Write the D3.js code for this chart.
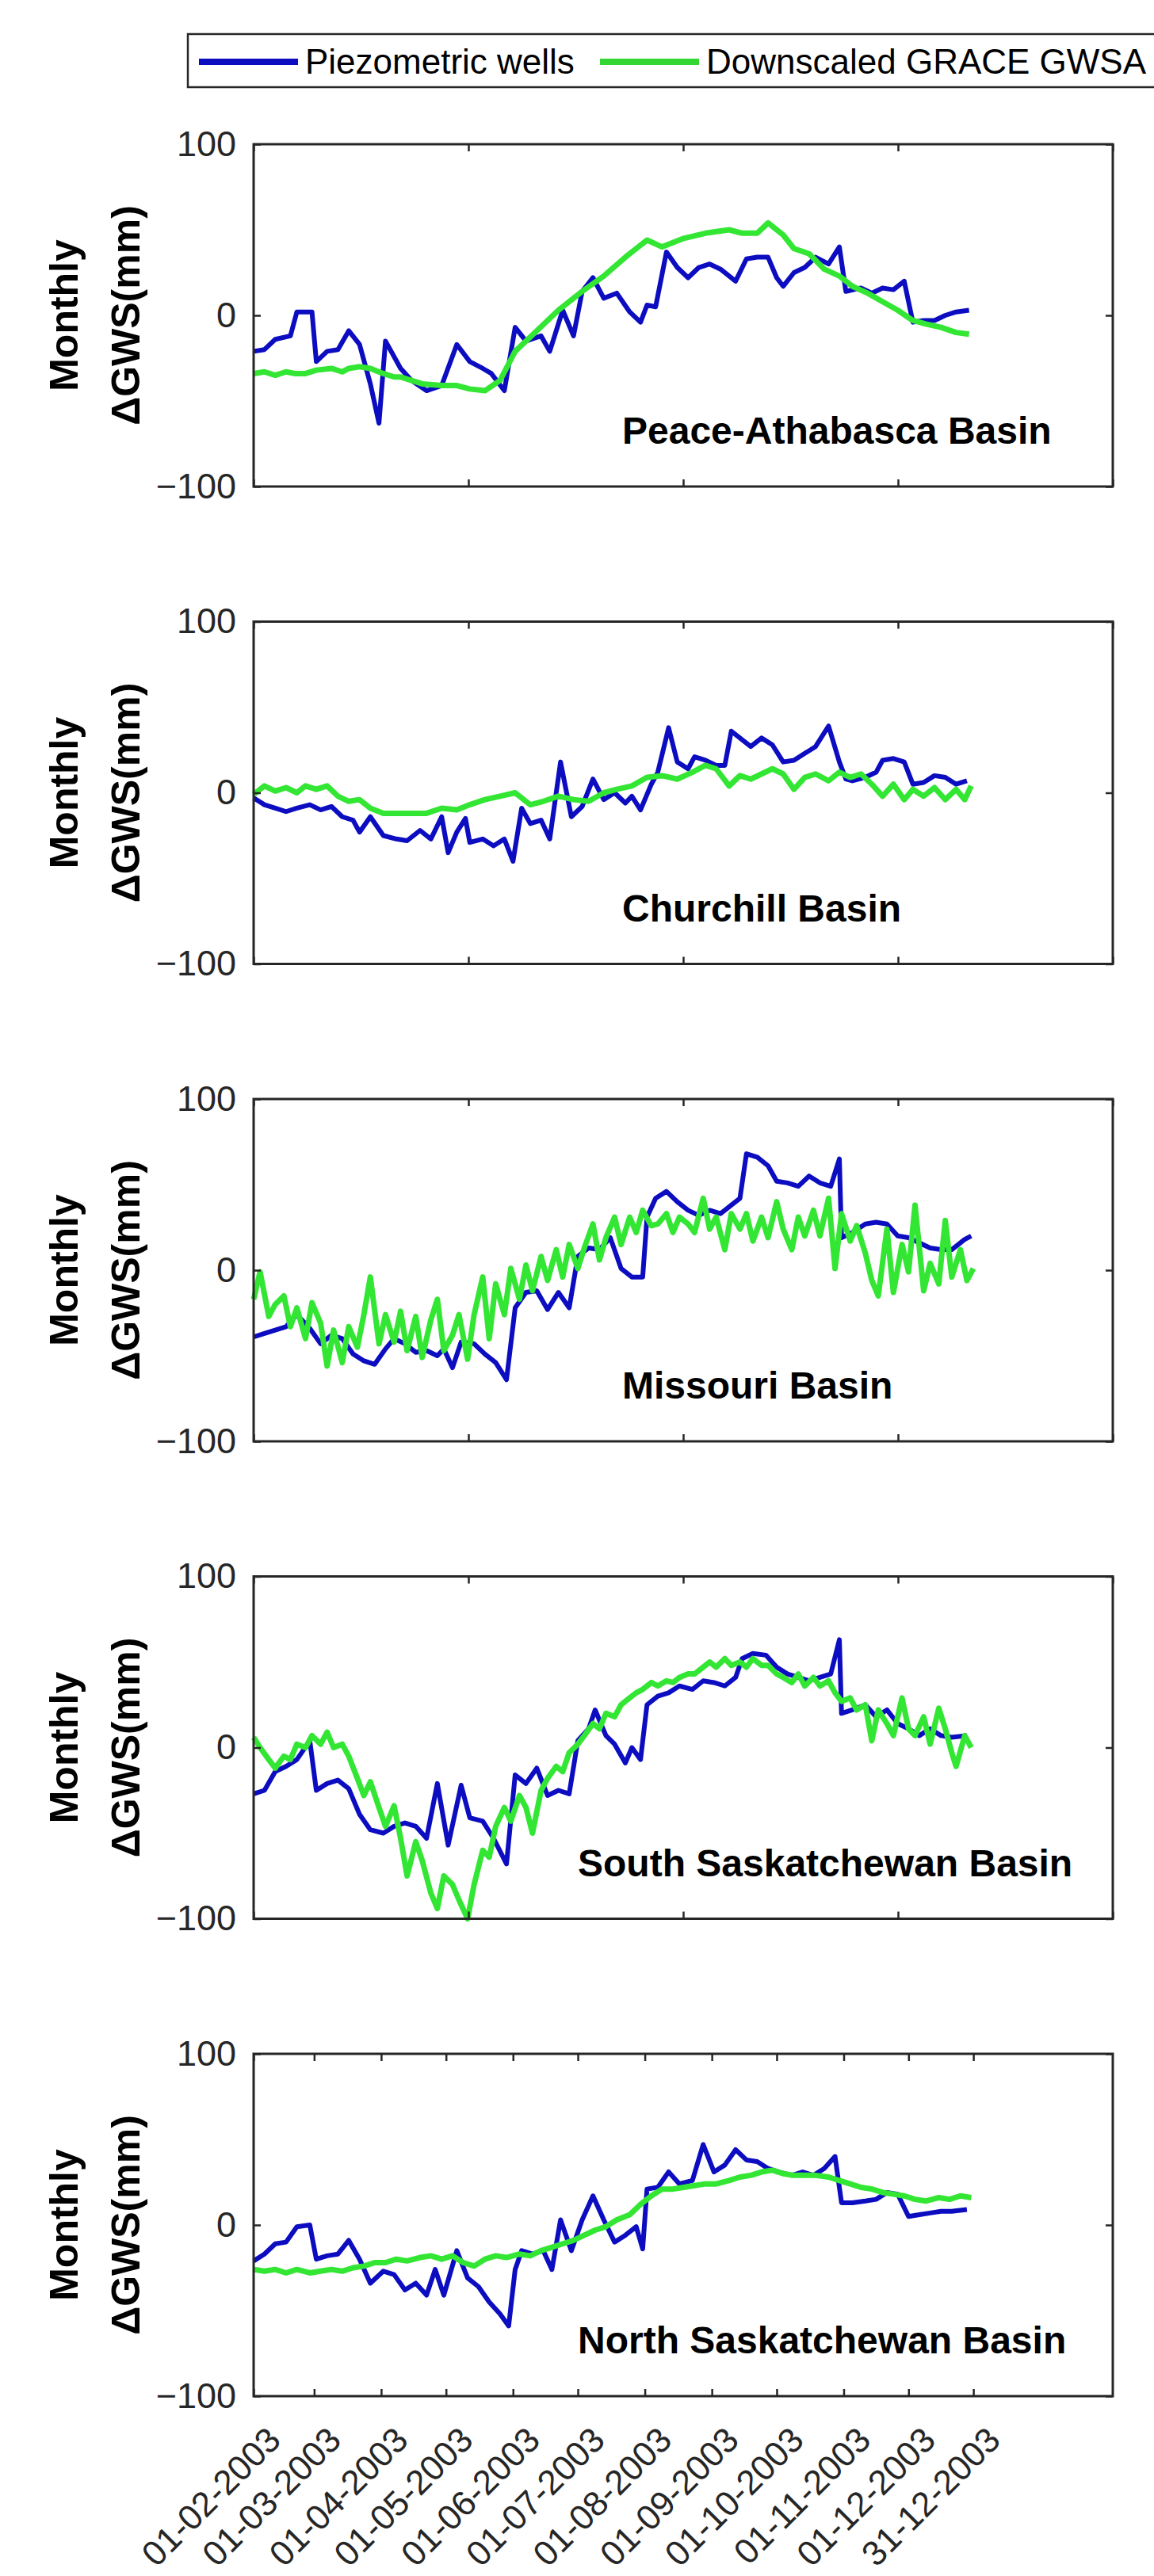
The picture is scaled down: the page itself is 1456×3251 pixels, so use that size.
<!DOCTYPE html>
<html>
<head>
<meta charset="utf-8">
<script src="https://cdn.jsdelivr.net/npm/d3@7"></script>
<style>
  body { margin: 0; background: #fff; }
  text { font-family: "Liberation Sans", Arial, Helvetica, sans-serif; }
</style>
</head>
<body>
<div class="container"></div>
<script>
// data: [day of year 2003, mm]
const basinNames = ['Peace-Athabasca Basin', 'Churchill Basin', 'Missouri Basin',
  'South Saskatchewan Basin', 'North Saskatchewan Basin'];
const seriesNames = ['Piezometric wells', 'Downscaled GRACE GWSA'];
const dateTickLabels = ['01-02-2003', '01-03-2003', '01-04-2003', '01-05-2003', '01-06-2003',
  '01-07-2003', '01-08-2003', '01-09-2003', '01-10-2003', '01-11-2003', '01-12-2003', '31-12-2003'];
const yTicks = [-100, 0, 100];

const peaceWells = [[32,-21],[37,-20],[42,-14],[49,-12],[52,2],[59,2],[61,-27],[66,-21],[71,-20],[76,-9],
  [81,-17],[86,-40],[90,-63],[93,-15],[100,-31],[105,-38],[112,-44],[119,-41],[126,-17],[132,-27],
  [138,-31],[142,-34],[148,-44],[153,-7],[158,-15],[165,-12],[169,-21],[175,3],[180,-12],[184,14],
  [189,22],[194,10],[200,13],[206,2],[211,-4],[214,6],[218,5],[223,37],[228,28],[233,22],[238,28],
  [243,30],[248,27],[255,20],[260,33],[265,34],[270,34],[274,22],[277,17],[282,25],[287,28],[292,34],
  [298,30],[303,40],[306,14],[313,16],[318,13],[323,16],[328,15],[333,20],[337,-4],[342,-3],[347,-3],
  [352,0],[357,2],[363,3]];
const peaceGrace = [[32,-34],[37,-33],[42,-35],[47,-33],[51,-34],[56,-34],[61,-32],[68,-31],[73,-33],
  [76,-31],[81,-30],[86,-31],[92,-34],[97,-36],[100,-36],[105,-38],[110,-40],[119,-41],[126,-41],
  [132,-43],[139,-44],[146,-38],[153,-21],[163,-9],[173,3],[184,14],[194,23],[204,34],[214,44],
  [221,40],[231,45],[241,48],[252,50],[258,48],[265,48],[270,54],[277,47],[282,39],[289,36],[296,27],
  [303,23],[309,17],[316,13],[323,8],[330,3],[337,-3],[343,-5],[350,-7],[357,-10],[363,-11]];

const churchillWells = [[32,-3],[37,-7],[42,-9],[47,-11],[52,-9],[58,-7],[63,-10],[68,-8],[73,-14],
  [78,-16],[81,-23],[86,-14],[92,-25],[98,-27],[103,-28],[109,-22],[114,-27],[119,-14],[122,-35],
  [126,-23],[130,-15],[132,-29],[138,-27],[143,-31],[148,-27],[152,-40],[156,-9],[160,-18],[165,-16],
  [169,-27],[174,18],[179,-14],[184,-8],[189,8],[194,-4],[199,0],[204,-6],[207,-2],[211,-10],[216,5],
  [219,12],[224,38],[228,18],[233,14],[236,21],[241,19],[246,16],[250,16],[253,36],[257,32],[262,27],
  [267,32],[272,28],[277,18],[282,19],[287,23],[292,27],[298,39],[303,18],[306,8],[309,7],[315,9],
  [320,12],[323,19],[328,20],[333,18],[337,5],[342,6],[347,10],[352,9],[357,5],[362,7]];
const churchillGrace = [[32,-1],[37,4],[42,1],[47,3],[52,0],[56,4],[61,2],[66,4],[71,-2],[76,-5],
  [81,-4],[86,-9],[92,-12],[98,-12],[105,-12],[112,-12],[119,-9],[126,-10],[132,-7],[139,-4],[146,-2],
  [153,0],[160,-7],[166,-5],[173,-2],[180,-4],[187,-5],[194,0],[200,2],[207,4],[214,9],[221,10],
  [228,8],[235,12],[241,16],[246,14],[252,4],[257,10],[262,8],[267,11],[272,14],[277,11],[282,2],
  [287,9],[292,11],[298,7],[303,12],[308,9],[313,11],[318,5],[323,-2],[328,5],[333,-4],[337,2],
  [342,-2],[347,3],[352,-4],[357,2],[361,-4],[364,4]];

const missouriWells = [[32,-39],[37,-37],[42,-35],[47,-33],[52,-26],[58,-34],[63,-43],[68,-38],[73,-40],
  [78,-49],[83,-53],[88,-55],[93,-46],[97,-40],[102,-43],[107,-48],[112,-47],[117,-50],[120,-46],
  [124,-57],[128,-42],[134,-43],[139,-49],[144,-54],[149,-64],[153,-22],[158,-13],[163,-12],[168,-23],
  [173,-13],[178,-22],[182,8],[187,13],[192,12],[197,19],[202,1],[207,-4],[212,-4],[214,31],[218,42],
  [223,46],[228,40],[233,35],[238,32],[243,35],[248,33],[253,38],[257,42],[260,68],[265,66],[270,61],
  [274,52],[279,51],[284,49],[289,55],[294,51],[299,49],[303,65],[304,19],[309,22],[315,27],[320,28],
  [325,27],[330,20],[335,19],[340,16],[345,13],[350,12],[355,12],[361,18],[364,20]];
const missouriGrace = [[32,-17],[35,-1],[39,-27],[42,-20],[46,-15],[49,-33],[52,-22],[56,-40],[59,-19],
  [63,-31],[66,-56],[69,-35],[73,-54],[76,-33],[80,-45],[83,-26],[86,-4],[90,-43],[93,-26],[97,-42],
  [100,-24],[103,-47],[107,-27],[110,-51],[114,-29],[117,-17],[120,-47],[124,-38],[127,-26],[131,-52],
  [134,-26],[138,-4],[141,-40],[144,-8],[148,-26],[151,1],[155,-17],[158,3],[161,-12],[165,8],[168,-6],
  [172,12],[175,-4],[178,15],[182,1],[185,13],[189,27],[192,6],[195,19],[199,31],[202,15],[206,31],
  [209,22],[212,35],[216,26],[219,27],[223,33],[226,22],[229,31],[233,27],[236,22],[240,42],[243,24],
  [246,31],[250,12],[253,33],[257,24],[260,33],[263,17],[267,31],[270,19],[274,40],[277,24],[281,12],
  [284,31],[287,20],[291,35],[294,20],[298,42],[301,1],[304,33],[308,17],[311,26],[315,10],[318,-6],
  [321,-15],[325,24],[328,-13],[332,15],[335,-1],[338,38],[342,-12],[345,4],[349,-8],[352,29],[355,-4],
  [359,12],[362,-6],[365,1]];

const southSaskWells = [[32,-27],[37,-25],[42,-14],[47,-11],[52,-7],[58,4],[61,-25],[66,-21],[71,-19],
  [76,-24],[81,-39],[86,-48],[92,-50],[97,-46],[102,-44],[107,-46],[112,-53],[117,-21],[122,-57],
  [128,-22],[132,-41],[138,-43],[143,-53],[149,-68],[153,-16],[158,-21],[163,-12],[168,-28],[173,-25],
  [178,-27],[182,4],[187,11],[190,22],[195,7],[199,2],[204,-9],[207,0],[211,-7],[214,25],[219,30],
  [224,32],[229,36],[235,34],[240,39],[245,38],[250,36],[255,41],[258,52],[263,55],[269,54],[274,47],
  [279,43],[284,41],[289,39],[294,41],[299,43],[303,63],[304,20],[309,22],[315,25],[320,18],[325,22],
  [330,14],[335,11],[340,7],[345,11],[350,7],[355,6],[362,7]];
const southSaskGrace = [[32,6],[35,0],[39,-7],[42,-12],[46,-5],[49,-7],[52,2],[56,0],[59,7],[63,2],
  [66,9],[69,0],[73,2],[76,-5],[80,-18],[83,-28],[86,-20],[90,-35],[93,-46],[97,-34],[100,-53],
  [103,-75],[107,-55],[110,-66],[114,-85],[117,-94],[120,-75],[124,-80],[127,-89],[131,-100],[134,-80],
  [138,-60],[141,-64],[144,-46],[148,-35],[151,-43],[155,-28],[158,-35],[161,-50],[165,-25],[168,-18],
  [172,-11],[175,-14],[178,-3],[182,2],[185,7],[189,14],[192,11],[195,20],[199,18],[202,25],[206,29],
  [209,32],[212,34],[216,38],[219,36],[223,39],[226,38],[229,41],[233,43],[236,43],[240,47],[243,50],
  [246,47],[250,52],[253,48],[257,50],[260,47],[263,52],[267,48],[270,48],[274,43],[277,41],[281,38],
  [284,43],[287,36],[291,41],[294,36],[298,39],[301,32],[304,27],[308,29],[311,22],[315,25],[318,4],
  [321,22],[325,14],[328,7],[332,29],[335,11],[338,7],[342,18],[345,2],[349,23],[352,11],[355,-3],
  [357,-11],[361,7],[364,0]];

const northSaskWells = [[32,-21],[37,-17],[42,-11],[47,-10],[52,-1],[58,0],[61,-20],[66,-18],[71,-17],
  [76,-9],[81,-20],[86,-34],[92,-27],[97,-29],[102,-38],[107,-34],[112,-41],[116,-26],[120,-41],
  [126,-15],[131,-31],[136,-36],[141,-45],[146,-52],[150,-59],[153,-26],[156,-15],[161,-17],[166,-15],
  [170,-26],[174,3],[179,-15],[184,3],[189,17],[194,3],[199,-10],[204,-6],[209,-1],[212,-14],[214,21],
  [219,22],[224,31],[229,24],[235,26],[240,47],[245,31],[250,35],[255,44],[260,38],[265,37],[270,33],
  [275,31],[281,29],[286,31],[291,29],[296,33],[301,40],[304,13],[309,13],[315,14],[320,15],[325,19],
  [330,18],[335,5],[340,6],[345,7],[350,8],[355,8],[362,9]];
const northSaskGrace = [[32,-26],[37,-27],[42,-26],[47,-28],[52,-26],[58,-28],[63,-27],[68,-26],[73,-27],
  [78,-25],[83,-24],[88,-22],[93,-22],[98,-20],[103,-21],[109,-19],[114,-18],[119,-20],[124,-18],
  [129,-22],[134,-24],[139,-20],[144,-18],[149,-19],[155,-17],[160,-18],[165,-15],[170,-13],[175,-11],
  [180,-9],[185,-6],[190,-3],[195,-1],[200,3],[206,6],[211,12],[216,17],[221,21],[226,21],[231,22],
  [236,23],[241,24],[246,24],[252,26],[257,28],[262,29],[267,31],[272,32],[277,30],[282,29],[287,29],
  [292,29],[298,28],[303,26],[308,24],[313,22],[318,21],[323,19],[328,18],[333,17],[338,15],[343,14],
  [349,16],[354,15],[359,17],[364,16]];

const wellsSeries = [peaceWells, churchillWells, missouriWells, southSaskWells, northSaskWells];
const graceSeries = [peaceGrace, churchillGrace, missouriGrace, southSaskGrace, northSaskGrace];

const W = 1456, H = 3251;
const left = 320, right = 1404, top0 = 182, step = 602.5, panelH = 432;
const blue = '#0c0cc0', green = '#33e633', ink = '#262626';
const labelLeft = [785, 785, 785, 729, 729];

let svg = d3.select('.container').append('svg')
  .attr('width', W)
  .attr('height', H)
  .style('display', 'block');

svg.append('rect').attr('width', W).attr('height', H).attr('fill', '#fff');

const toDate = doy => new Date(2003, 0, doy);
let t0 = new Date(2003, 1, 1), t1 = new Date(2004, 2, 4, 12);

let x = d3.scaleTime().domain([t0, t1]).range([left, right]);
let quarterTicks = d3.range(5).map(i => new Date(+t0 + i * (t1 - t0) / 4));
let parseTick = d3.timeParse('%d-%m-%Y');
let dateTicks = dateTickLabels.map(parseTick);

basinNames.forEach((name, i) => {
  let top = top0 + i * step;
  let y = d3.scaleLinear().domain([-100, 100]).range([top + panelH, top]);
  let last = i === basinNames.length - 1;
  let ticks = last ? dateTicks : quarterTicks;

  let g = svg.append('g');

  let plotLine = d3.line()
    .x(d => x(toDate(d[0])))
    .y(d => y(d[1]));

  g.append('path')
    .datum(wellsSeries[i])
    .attr('d', plotLine)
    .attr('fill', 'none')
    .attr('stroke', blue)
    .attr('stroke-width', 6)
    .attr('stroke-linejoin', 'round');

  g.append('path')
    .datum(graceSeries[i])
    .attr('d', plotLine)
    .attr('fill', 'none')
    .attr('stroke', green)
    .attr('stroke-width', 7)
    .attr('stroke-linejoin', 'round');

  // axes, ticks pointing inward
  let yLeft = g.append('g')
    .attr('transform', `translate(${left},0)`)
    .call(d3.axisLeft(y).tickValues(yTicks).tickSize(-9).tickPadding(22));
  let yRight = g.append('g')
    .attr('transform', `translate(${right},0)`)
    .call(d3.axisRight(y).tickValues(yTicks).tickSize(-9).tickFormat(''));
  let xTop = g.append('g')
    .attr('transform', `translate(0,${top})`)
    .call(d3.axisTop(x).tickValues(ticks).tickSize(-9).tickFormat(''));
  let xBottom = g.append('g')
    .attr('transform', `translate(0,${top + panelH})`)
    .call(d3.axisBottom(x).tickValues(ticks).tickSize(-9)
      .tickFormat(last ? (d, j) => dateTickLabels[j] : ''));

  [yLeft, yRight, xTop, xBottom].forEach(a => {
    a.select('.domain').remove();
    a.selectAll('line').attr('stroke', ink).attr('stroke-width', 2.5);
    a.selectAll('text').attr('fill', ink).style('font-size', '45px');
  });

  if (last) {
    xBottom.selectAll('text')
      .attr('x', 0).attr('y', 0).attr('dy', 0)
      .attr('text-anchor', 'end')
      .style('font-size', '44px')
      .attr('transform', 'translate(36,58) rotate(-45)');
  }

  g.append('rect')
    .attr('x', left).attr('y', top)
    .attr('width', right - left).attr('height', panelH)
    .attr('fill', 'none')
    .attr('stroke', ink)
    .attr('stroke-width', 3);

  g.append('text')
    .attr('x', labelLeft[i])
    .attr('y', top + panelH - 54)
    .style('font-size', '48px')
    .style('font-weight', 'bold')
    .attr('fill', '#000')
    .text(name);

  // y label
  let cy = top + panelH / 2;
  g.append('text')
    .attr('transform', `translate(98,${cy}) rotate(-90)`)
    .attr('text-anchor', 'middle')
    .style('font-size', '50px')
    .style('font-weight', 'bold')
    .text('Monthly');
  g.append('text')
    .attr('transform', `translate(176,${cy}) rotate(-90)`)
    .attr('text-anchor', 'middle')
    .style('font-size', '50px')
    .style('font-weight', 'bold')
    .text('\u0394GWS(mm)');
});

// legend
let legend = svg.append('g');
legend.append('rect')
  .attr('x', 237).attr('y', 43)
  .attr('width', 1300).attr('height', 67)
  .attr('fill', '#fff')
  .attr('stroke', ink)
  .attr('stroke-width', 2.5);

let legendItems = [
  {name: seriesNames[0], color: blue, x: 251},
  {name: seriesNames[1], color: '#33d633', x: 757}
];
legendItems.forEach(d => {
  legend.append('line')
    .attr('x1', d.x).attr('x2', d.x + 125)
    .attr('y1', 78).attr('y2', 78)
    .attr('stroke', d.color)
    .attr('stroke-width', 8);
  legend.append('text')
    .attr('x', d.x + 134)
    .attr('y', 93)
    .style('font-size', '44px')
    .attr('fill', '#000')
    .text(d.name);
});
</script>
</body>
</html>
